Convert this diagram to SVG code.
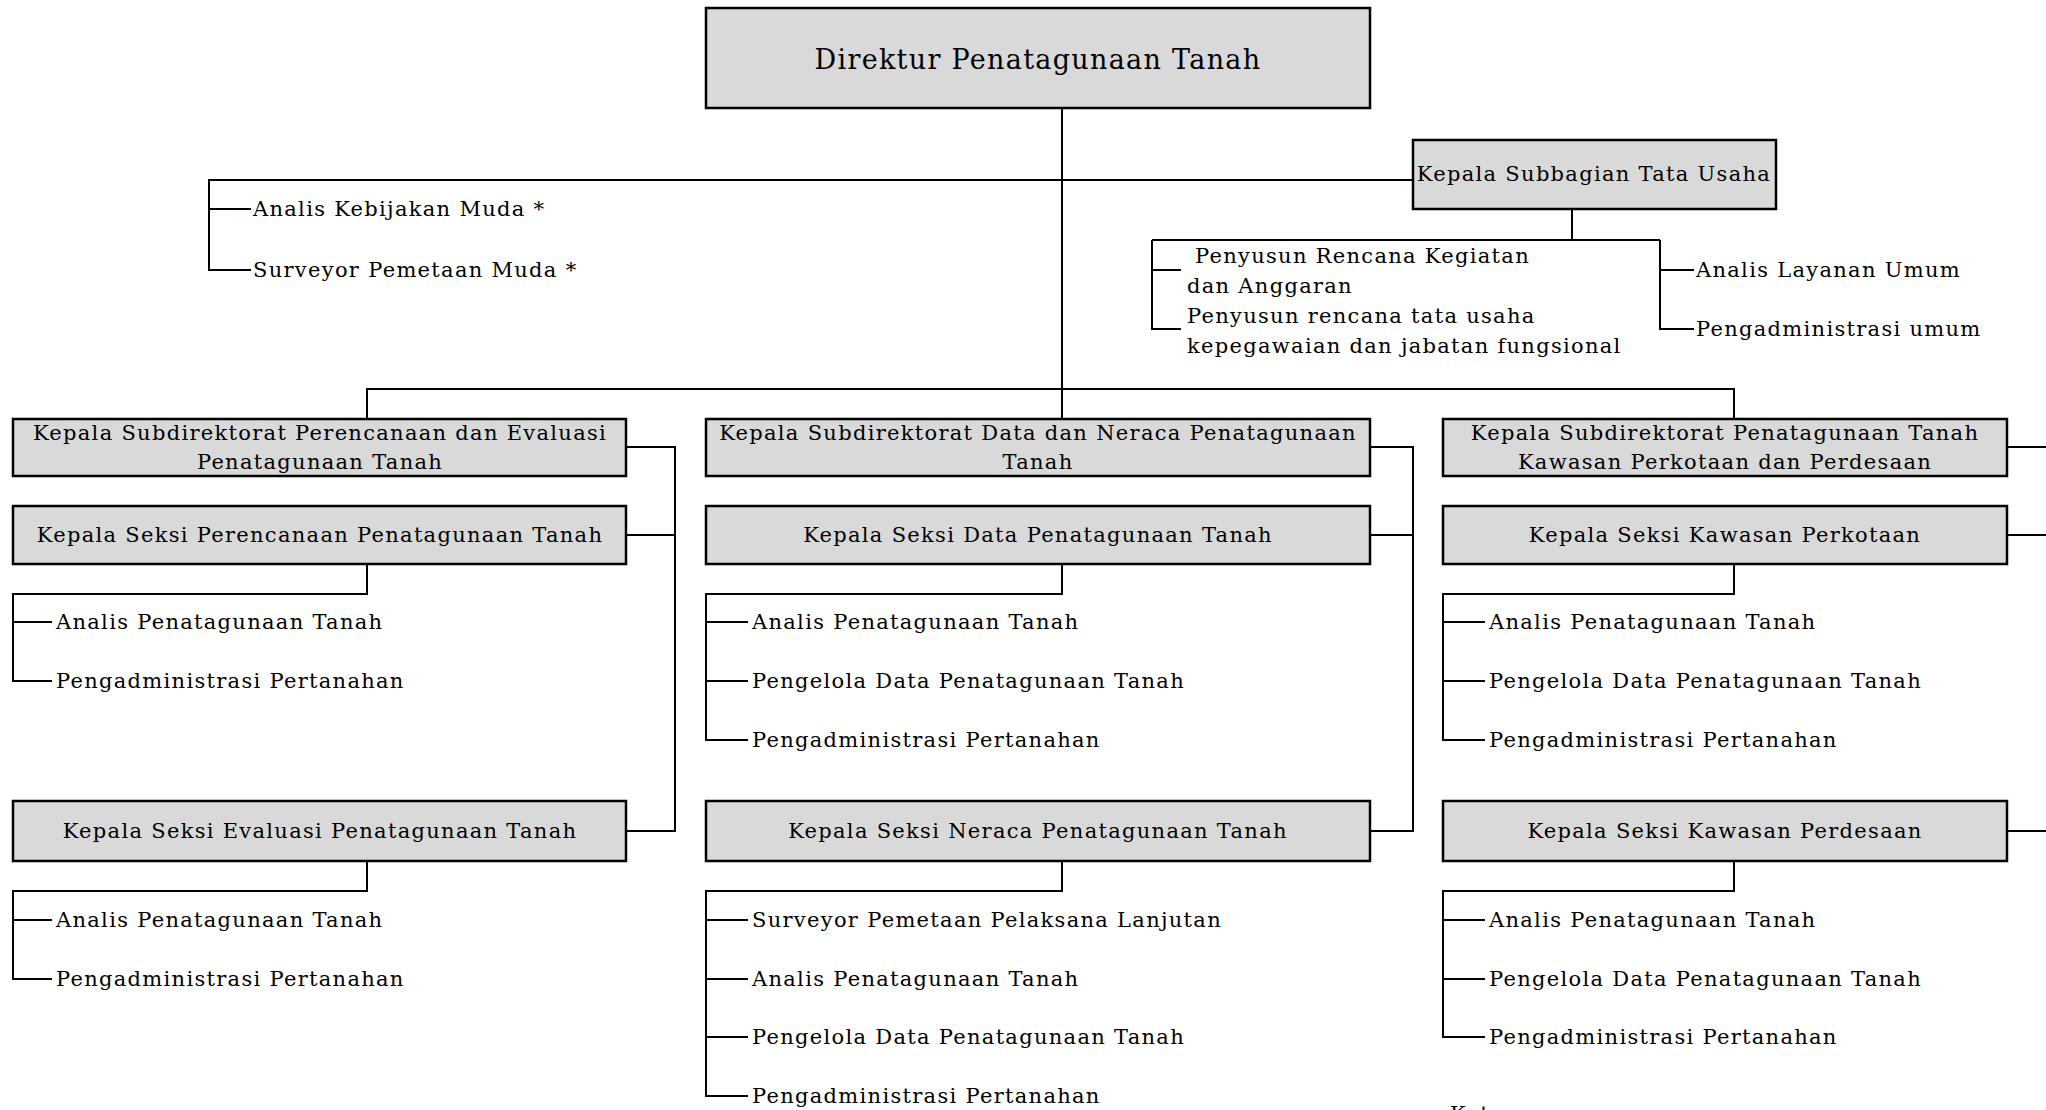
<svg xmlns="http://www.w3.org/2000/svg" width="2046" height="1110" viewBox="0 0 2046 1110">
<style>
.box{fill:#d9d9d9;stroke:#000;stroke-width:2.5}
.ln{fill:none;stroke:#000;stroke-width:2}
.t{font-family:"DejaVu Serif","Liberation Serif",serif;font-size:21px;letter-spacing:1.3px;fill:#000}
.c{text-anchor:middle}
.title{font-size:27px}
</style>
<rect width="2046" height="1110" fill="#fff"/>
<g id="connectors">
<path class="ln" d="M1062 108 V389"/>
<path class="ln" d="M1413 180 H209 V270 H251 M209 209 H251"/>
<path class="ln" d="M1572 209 V240 M1152 240 H1660 M1152 240 V329 H1181 M1152 270 H1181 M1660 240 V329 H1694 M1660 270 H1694"/>
<path class="ln" d="M367 419 V389 H1734 V419 M1062 389 V419"/>
<path class="ln" d="M626 447 H675 V831 H626 M626 535 H675"/>
<path class="ln" d="M1370 447 H1413 V831 H1370 M1370 535 H1413"/>
<path class="ln" d="M2007 447 H2046 M2007 535 H2046 M2007 831 H2046"/>
<path class="ln" d="M367 564 V594 H13 V681 H52 M13 622 H52"/>
<path class="ln" d="M367 861 V891 H13 V979 H52 M13 920 H52"/>
<path class="ln" d="M1062 564 V594 H706 V740 H748 M706 622 H748 M706 681 H748"/>
<path class="ln" d="M1062 861 V891 H706 V1096 H748 M706 920 H748 M706 979 H748 M706 1037 H748"/>
<path class="ln" d="M1734 564 V594 H1443 V740 H1485 M1443 622 H1485 M1443 681 H1485"/>
<path class="ln" d="M1734 861 V891 H1443 V1037 H1485 M1443 920 H1485 M1443 979 H1485"/>
</g>
<g id="direktur">
<rect class="box" x="706" y="8" width="664" height="100"/>
<text class="t c title" x="1038" y="69">Direktur Penatagunaan Tanah</text>
</g>
<g id="fungsional-direktur">
<text class="t" x="253" y="216">Analis Kebijakan Muda *</text>
<text class="t" x="253" y="277">Surveyor Pemetaan Muda *</text>
</g>
<g id="kasubbag-tu">
<rect class="box" x="1413" y="140" width="363" height="69"/>
<text class="t c" x="1594" y="181">Kepala Subbagian Tata Usaha</text>
</g>
<g id="fungsional-tu">
<text class="t" x="1187" y="263" xml:space="preserve"> Penyusun Rencana Kegiatan</text>
<text class="t" x="1187" y="293">dan Anggaran</text>
<text class="t" x="1187" y="323">Penyusun rencana tata usaha</text>
<text class="t" x="1187" y="353">kepegawaian dan jabatan fungsional</text>
<text class="t" x="1696" y="277">Analis Layanan Umum</text>
<text class="t" x="1696" y="336">Pengadministrasi umum</text>
</g>
<g id="subdit-perencanaan">
<rect class="box" x="13" y="419" width="613" height="57"/>
<text class="t c" x="320" y="440">Kepala Subdirektorat Perencanaan dan Evaluasi</text>
<text class="t c" x="320" y="469">Penatagunaan Tanah</text>
</g>
<g id="seksi-perencanaan">
<rect class="box" x="13" y="506" width="613" height="58"/>
<text class="t c" x="320" y="542">Kepala Seksi Perencanaan Penatagunaan Tanah</text>
</g>
<g id="fungsional-perencanaan">
<text class="t" x="56" y="629">Analis Penatagunaan Tanah</text>
<text class="t" x="56" y="688">Pengadministrasi Pertanahan</text>
</g>
<g id="seksi-evaluasi">
<rect class="box" x="13" y="801" width="613" height="60"/>
<text class="t c" x="320" y="838">Kepala Seksi Evaluasi Penatagunaan Tanah</text>
</g>
<g id="fungsional-evaluasi">
<text class="t" x="56" y="927">Analis Penatagunaan Tanah</text>
<text class="t" x="56" y="986">Pengadministrasi Pertanahan</text>
</g>
<g id="subdit-data">
<rect class="box" x="706" y="419" width="664" height="57"/>
<text class="t c" x="1038" y="440">Kepala Subdirektorat Data dan Neraca Penatagunaan</text>
<text class="t c" x="1038" y="469">Tanah</text>
</g>
<g id="seksi-data">
<rect class="box" x="706" y="506" width="664" height="58"/>
<text class="t c" x="1038" y="542">Kepala Seksi Data Penatagunaan Tanah</text>
</g>
<g id="fungsional-data">
<text class="t" x="752" y="629">Analis Penatagunaan Tanah</text>
<text class="t" x="752" y="688">Pengelola Data Penatagunaan Tanah</text>
<text class="t" x="752" y="747">Pengadministrasi Pertanahan</text>
</g>
<g id="seksi-neraca">
<rect class="box" x="706" y="801" width="664" height="60"/>
<text class="t c" x="1038" y="838">Kepala Seksi Neraca Penatagunaan Tanah</text>
</g>
<g id="fungsional-neraca">
<text class="t" x="752" y="927">Surveyor Pemetaan Pelaksana Lanjutan</text>
<text class="t" x="752" y="986">Analis Penatagunaan Tanah</text>
<text class="t" x="752" y="1044">Pengelola Data Penatagunaan Tanah</text>
<text class="t" x="752" y="1103">Pengadministrasi Pertanahan</text>
</g>
<g id="subdit-kawasan">
<rect class="box" x="1443" y="419" width="564" height="57"/>
<text class="t c" x="1725" y="440">Kepala Subdirektorat Penatagunaan Tanah</text>
<text class="t c" x="1725" y="469">Kawasan Perkotaan dan Perdesaan</text>
</g>
<g id="seksi-perkotaan">
<rect class="box" x="1443" y="506" width="564" height="58"/>
<text class="t c" x="1725" y="542">Kepala Seksi Kawasan Perkotaan</text>
</g>
<g id="fungsional-perkotaan">
<text class="t" x="1489" y="629">Analis Penatagunaan Tanah</text>
<text class="t" x="1489" y="688">Pengelola Data Penatagunaan Tanah</text>
<text class="t" x="1489" y="747">Pengadministrasi Pertanahan</text>
</g>
<g id="seksi-perdesaan">
<rect class="box" x="1443" y="801" width="564" height="60"/>
<text class="t c" x="1725" y="838">Kepala Seksi Kawasan Perdesaan</text>
</g>
<g id="fungsional-perdesaan">
<text class="t" x="1489" y="927">Analis Penatagunaan Tanah</text>
<text class="t" x="1489" y="986">Pengelola Data Penatagunaan Tanah</text>
<text class="t" x="1489" y="1044">Pengadministrasi Pertanahan</text>
</g>
<g id="keterangan">
<text class="t" x="1450" y="1121">Keterangan :</text>
</g>
</svg>
